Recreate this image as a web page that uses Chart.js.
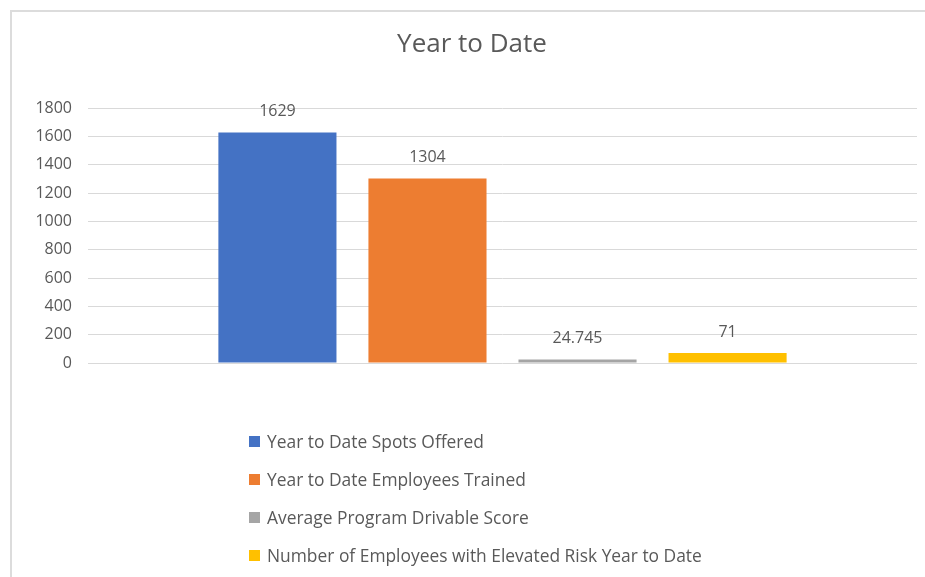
<!DOCTYPE html>
<html>
<head>
<meta charset="utf-8">
<title>Year to Date</title>
<script src="https://cdn.jsdelivr.net/npm/chart.js@4.4.1/dist/chart.umd.min.js"></script>
<style>
  html, body { margin: 0; padding: 0; background: #fff; overflow: hidden; }
  body { width: 925px; height: 577px; position: relative; font-family: 'Open Sans', sans-serif; }
  .frame {
    position: absolute; left: 10px; top: 10px; width: 930px; height: 580px;
    border-left: 2px solid #dcdcdc; border-top: 2px solid #dcdcdc;
  }
  .wrap { position: absolute; left: 0; top: 0; width: 925px; height: 577px; }
  #legend {
    position: absolute; left: 249px; top: 422px; margin: 0; padding: 0; list-style: none;
  }
  #legend li {
    display: flex; align-items: center; height: 38px;
    font-size: 17.4px; color: #595959; white-space: nowrap;
  }
  #legend li span.box { width: 11px; height: 11px; margin-right: 7px; display: inline-block; }
</style>
</head>
<body>
<div class="frame"></div>
<div class="wrap"><canvas id="chart"></canvas></div>
<ul id="legend"></ul>
<script>
const categories = [''];
const seriesNames = [
  'Year to Date Spots Offered',
  'Year to Date Employees Trained',
  'Average Program Drivable Score',
  'Number of Employees with Elevated Risk Year to Date'
];
const seriesValues = [1629, 1304, 24.745, 71];
const seriesColors = ['#4472C4', '#ED7D31', '#A5A5A5', '#FFC000'];
const yTicks = [0, 200, 400, 600, 800, 1000, 1200, 1400, 1600, 1800];

Chart.defaults.font.family = "'Open Sans', sans-serif";
Chart.defaults.color = '#595959';

// value labels sitting above each bar
const barLabels = {
  id: 'barLabels',
  afterDatasetsDraw(chart) {
    const ctx = chart.ctx;
    ctx.save();
    ctx.font = "16px 'Open Sans', sans-serif";
    ctx.fillStyle = '#595959';
    ctx.textAlign = 'center';
    ctx.textBaseline = 'middle';
    chart.data.datasets.forEach((ds, i) => {
      const bar = chart.getDatasetMeta(i).data[0];
      ctx.fillText(String(ds.data[0]), bar.x, bar.y - 21);
    });
    ctx.restore();
  }
};

// stacked legend list under the chart
const htmlLegend = {
  id: 'htmlLegend',
  afterUpdate(chart) {
    const ul = document.getElementById('legend');
    ul.innerHTML = '';
    const items = chart.options.plugins.legend.labels.generateLabels(chart);
    items.forEach(item => {
      const li = document.createElement('li');
      const box = document.createElement('span');
      box.className = 'box';
      box.style.background = item.fillStyle;
      li.appendChild(box);
      li.appendChild(document.createTextNode(item.text));
      ul.appendChild(li);
    });
  }
};

const datasets = seriesNames.map((name, i) => ({
  label: name,
  data: [seriesValues[i]],
  backgroundColor: seriesColors[i],
  borderWidth: 0,
  categoryPercentage: 0.724,
  barPercentage: 0.787
}));

new Chart(document.getElementById('chart'), {
  type: 'bar',
  data: { labels: categories, datasets: datasets },
  options: {
    responsive: true,
    maintainAspectRatio: false,
    animation: false,
    layout: { padding: { left: 27, right: 8, top: 10, bottom: 214 } },
    plugins: {
      legend: { display: false },
      tooltip: { enabled: false },
      title: {
        display: true,
        text: 'Year to Date',
        color: '#595959',
        font: { size: 26, weight: 'normal' },
        padding: { top: 19, bottom: 48 }
      }
    },
    scales: {
      x: { display: false },
      y: {
        min: 0,
        max: 1800,
        afterFit(scale) { scale.width = 61; },
        afterBuildTicks(scale) { scale.ticks = yTicks.map(v => ({ value: v })); },
        border: { display: false },
        grid: { color: '#d9d9d9', drawTicks: false, lineWidth: 1 },
        ticks: {
          padding: 16,
          color: '#595959',
          font: { size: 16 },
          callback: v => String(v)
        }
      }
    }
  },
  plugins: [barLabels, htmlLegend]
});
</script>
</body>
</html>
